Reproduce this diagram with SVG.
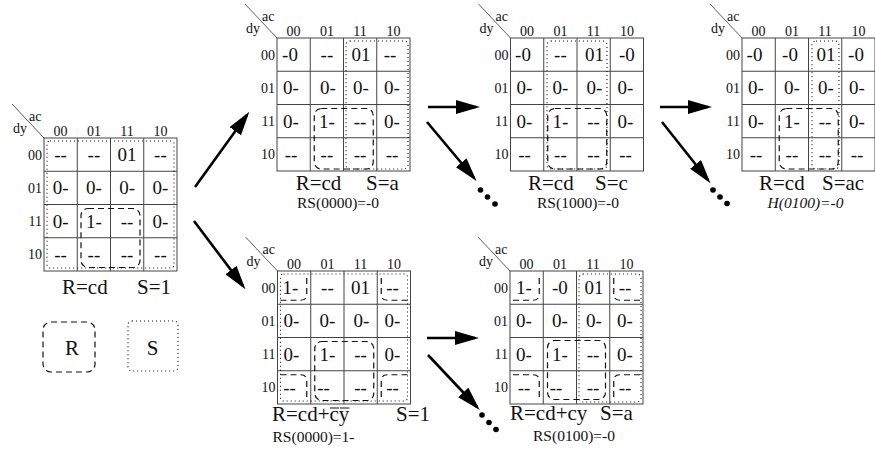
<svg xmlns="http://www.w3.org/2000/svg" xmlns:xlink="http://www.w3.org/1999/xlink" width="875" height="453" viewBox="0 0 875 453" font-family="'Liberation Serif', 'DejaVu Serif', serif">
<style>
text{fill:#111}
.hd{font-size:14px;text-anchor:middle}
.rl{font-size:14px;text-anchor:end}
.ax{font-size:14px}
.v{font-size:19px;text-anchor:middle}
.lb{font-size:21px}
.rs{font-size:15.5px;text-anchor:middle}
.gl{stroke:#444;stroke-width:1;fill:none}
.r{fill:none;stroke:#111;stroke-width:1.2;stroke-dasharray:6 4}
.s{fill:none;stroke:#111;stroke-width:1.1;stroke-dasharray:1 3}
.arr{stroke:#000;stroke-width:2.6;fill:none}
.ov{stroke:#111;stroke-width:1}
</style>
<defs>
<marker id="ah" markerUnits="userSpaceOnUse" markerWidth="24" markerHeight="14" refX="20" refY="7" orient="auto">
<path d="M0,0 L24,7 L0,14 z" fill="#000"/>
</marker>
<g id="kgrid">
<rect class="gl" x="0" y="0" width="133" height="133"/>
<path class="gl" d="M33.25,0V133M66.5,0V133M99.75,0V133M0,33.25H133M0,66.5H133M0,99.75H133"/>
<line x1="-32" y1="-34" x2="0" y2="0" stroke="#333" stroke-width="0.8"/>
<text class="ax" x="-15" y="-17">ac</text>
<text class="ax" x="-31" y="-5">dy</text>
<text class="hd" x="16.6" y="-2">00</text>
<text class="hd" x="49.9" y="-2">01</text>
<text class="hd" x="83.1" y="-2">11</text>
<text class="hd" x="116.4" y="-2">10</text>
<text class="rl" x="-2" y="21.6">00</text>
<text class="rl" x="-2" y="54.9">01</text>
<text class="rl" x="-2" y="88.1">11</text>
<text class="rl" x="-2" y="121.4">10</text>
</g>
<path id="corners" class="r" d="M3,29.25H23.25Q29.25,29.25 29.25,23.25V3 M130,29.25H109.75Q103.75,29.25 103.75,23.25V3 M3,103.75H23.25Q29.25,103.75 29.25,109.75V130 M130,103.75H109.75Q103.75,103.75 103.75,109.75V130"/>
</defs>

<g id="connectors">
<line class="arr" x1="195" y1="187" x2="247" y2="115" marker-end="url(#ah)"/>
<line class="arr" x1="194" y1="221" x2="243" y2="286" marker-end="url(#ah)"/>
<line class="arr" x1="428" y1="107" x2="476" y2="107" marker-end="url(#ah)"/>
<line class="arr" x1="427" y1="122" x2="474" y2="178" marker-end="url(#ah)"/>
<line class="arr" x1="660" y1="107" x2="708" y2="107" marker-end="url(#ah)"/>
<line class="arr" x1="662" y1="122" x2="708" y2="180" marker-end="url(#ah)"/>
<line class="arr" x1="427" y1="338" x2="475" y2="338" marker-end="url(#ah)"/>
<line class="arr" x1="428" y1="355" x2="477" y2="407" marker-end="url(#ah)"/>
<g fill="#000">
<circle cx="480.5" cy="190" r="2.8"/><circle cx="487.5" cy="197" r="2.8"/><circle cx="495" cy="204" r="2.8"/>
<circle cx="713" cy="190" r="2.8"/><circle cx="720" cy="197" r="2.8"/><circle cx="727" cy="203.5" r="2.8"/>
<circle cx="482" cy="415" r="2.8"/><circle cx="489" cy="422.5" r="2.8"/><circle cx="496" cy="429.5" r="2.8"/>
</g>
</g>

<g id="map1" transform="translate(44,138)">
<use xlink:href="#kgrid" href="#kgrid"/>
<rect class="s" x="3" y="3" width="127" height="127" rx="3"/>
<rect class="r" x="37" y="70.5" width="59" height="59" rx="7"/>
<text class="v" x="16.6" y="23">--</text><text class="v" x="49.9" y="23">--</text><text class="v" x="83.1" y="23">01</text><text class="v" x="116.4" y="23">--</text>
<text class="v" x="16.6" y="56.3">0-</text><text class="v" x="49.9" y="56.3">0-</text><text class="v" x="83.1" y="56.3">0-</text><text class="v" x="116.4" y="56.3">0-</text>
<text class="v" x="16.6" y="89.5">0-</text><text class="v" x="49.9" y="89.5">1-</text><text class="v" x="83.1" y="89.5">--</text><text class="v" x="116.4" y="89.5">0-</text>
<text class="v" x="16.6" y="122.8">--</text><text class="v" x="49.9" y="122.8">--</text><text class="v" x="83.1" y="122.8">--</text><text class="v" x="116.4" y="122.8">--</text>
<text class="lb" x="18" y="156">R=cd</text><text class="lb" x="93" y="156">S=1</text>
</g>

<g id="legendR">
<rect class="r" x="43" y="322" width="52" height="50" rx="8"/>
<text class="lb" x="72" y="355" text-anchor="middle">R</text>
</g>
<g id="legendS">
<rect class="s" x="128" y="321" width="50" height="50" rx="4"/>
<text class="lb" x="152.5" y="355" text-anchor="middle">S</text>
</g>

<g id="map2" transform="translate(277,38)">
<use xlink:href="#kgrid" href="#kgrid"/>
<rect class="s" x="69" y="3" width="62" height="128" rx="4"/>
<rect class="r" x="37.25" y="70.5" width="59" height="60.5" rx="7"/>
<text class="v" x="13" y="23">-0</text><text class="v" x="49.9" y="23">--</text><text class="v" x="84" y="23">01</text><text class="v" x="113" y="23">--</text>
<text class="v" x="14" y="56.3">0-</text><text class="v" x="51" y="56.3">0-</text><text class="v" x="84" y="56.3">0-</text><text class="v" x="115" y="56.3">0-</text>
<text class="v" x="14" y="89.5">0-</text><text class="v" x="49.9" y="89.5">1-</text><text class="v" x="83.1" y="89.5">--</text><text class="v" x="115" y="89.5">0-</text>
<text class="v" x="14" y="122.8">--</text><text class="v" x="49.9" y="122.8">--</text><text class="v" x="83.1" y="122.8">--</text><text class="v" x="115" y="122.8">--</text>
<text class="lb" x="18.7" y="152">R=cd</text><text class="lb" x="89" y="152">S=a</text>
<text class="rs" x="61" y="170">RS(0000)=-0</text>
</g>

<g id="map3" transform="translate(510.5,38)">
<use xlink:href="#kgrid" href="#kgrid"/>
<rect class="s" x="36.5" y="3" width="60" height="128" rx="4"/>
<rect class="r" x="37.25" y="70.5" width="59" height="60.5" rx="7"/>
<text class="v" x="12.5" y="23">-0</text><text class="v" x="49.9" y="23">--</text><text class="v" x="84" y="23">01</text><text class="v" x="116.4" y="23">-0</text>
<text class="v" x="14" y="56.3">0-</text><text class="v" x="50" y="56.3">0-</text><text class="v" x="84" y="56.3">0-</text><text class="v" x="115" y="56.3">0-</text>
<text class="v" x="14" y="89.5">0-</text><text class="v" x="49.9" y="89.5">1-</text><text class="v" x="83.1" y="89.5">--</text><text class="v" x="115" y="89.5">0-</text>
<text class="v" x="14" y="122.8">--</text><text class="v" x="49.9" y="122.8">--</text><text class="v" x="83.1" y="122.8">--</text><text class="v" x="115" y="122.8">--</text>
<text class="lb" x="17.5" y="152">R=cd</text><text class="lb" x="84.5" y="152">S=c</text>
<text class="rs" x="67.5" y="170">RS(1000)=-0</text>
</g>

<g id="map4" transform="translate(742,38)">
<use xlink:href="#kgrid" href="#kgrid"/>
<rect class="s" x="70" y="3" width="27" height="128" rx="4"/>
<rect class="r" x="37.25" y="70.5" width="59" height="60.5" rx="7"/>
<text class="v" x="12.5" y="23">-0</text><text class="v" x="48" y="23">-0</text><text class="v" x="84" y="23">01</text><text class="v" x="114" y="23">-0</text>
<text class="v" x="14" y="56.3">0-</text><text class="v" x="50" y="56.3">0-</text><text class="v" x="84" y="56.3">0-</text><text class="v" x="115" y="56.3">0-</text>
<text class="v" x="14" y="89.5">0-</text><text class="v" x="49.9" y="89.5">1-</text><text class="v" x="83.1" y="89.5">--</text><text class="v" x="115" y="89.5">0-</text>
<text class="v" x="14" y="122.8">--</text><text class="v" x="49.9" y="122.8">--</text><text class="v" x="83.1" y="122.8">--</text><text class="v" x="115" y="122.8">--</text>
<text class="lb" x="17" y="152">R=cd</text><text class="lb" x="80" y="152">S=ac</text>
<text class="rs" x="63.5" y="170" font-style="italic">H(0100)=-0</text>
</g>

<g id="map5" transform="translate(277.5,271)">
<use xlink:href="#kgrid" href="#kgrid"/>
<rect class="s" x="3" y="3" width="127" height="127" rx="3"/>
<rect class="r" x="37.25" y="70.5" width="59" height="59" rx="7"/>
<use xlink:href="#corners" href="#corners"/>
<text class="v" x="13" y="23">1-</text><text class="v" x="49.9" y="23">--</text><text class="v" x="83.1" y="23">01</text><text class="v" x="115" y="23">--</text>
<text class="v" x="14" y="56.3">0-</text><text class="v" x="50" y="56.3">0-</text><text class="v" x="84" y="56.3">0-</text><text class="v" x="115" y="56.3">0-</text>
<text class="v" x="14" y="89.5">0-</text><text class="v" x="49.9" y="89.5">1-</text><text class="v" x="83.1" y="89.5">--</text><text class="v" x="115" y="89.5">0-</text>
<text class="v" x="12" y="122.8">--</text><text class="v" x="46" y="122.8">--</text><text class="v" x="83.1" y="122.8">--</text><text class="v" x="115" y="122.8">--</text>
<text class="lb" x="-5.5" y="150">R=cd+cy</text><text class="lb" x="118.5" y="150">S=1</text>
<line class="ov" x1="52.5" y1="137" x2="61.5" y2="137"/>
<line class="ov" x1="62.5" y1="137" x2="72" y2="137"/>
<text class="rs" x="36" y="170.5">RS(0000)=1-</text>
</g>

<g id="map6" transform="translate(510,271)">
<use xlink:href="#kgrid" href="#kgrid"/>
<rect class="s" x="69" y="3" width="62" height="128" rx="4"/>
<rect class="r" x="37.5" y="69.5" width="58" height="59" rx="7"/>
<use xlink:href="#corners" href="#corners"/>
<text class="v" x="14" y="23">1-</text><text class="v" x="49.9" y="23">-0</text><text class="v" x="84" y="23">01</text><text class="v" x="115" y="23">--</text>
<text class="v" x="14" y="56.3">0-</text><text class="v" x="50" y="56.3">0-</text><text class="v" x="84" y="56.3">0-</text><text class="v" x="115" y="56.3">0-</text>
<text class="v" x="14" y="89.5">0-</text><text class="v" x="49.9" y="89.5">1-</text><text class="v" x="83.1" y="89.5">--</text><text class="v" x="115" y="89.5">0-</text>
<text class="v" x="14" y="122.8">--</text><text class="v" x="46" y="122.8">--</text><text class="v" x="83.1" y="122.8">--</text><text class="v" x="115" y="122.8">--</text>
<text class="lb" x="0" y="149">R=cd+cy</text><text class="lb" x="90" y="149">S=a</text>
<text class="rs" x="64" y="170">RS(0100)=-0</text>
</g>
</svg>
